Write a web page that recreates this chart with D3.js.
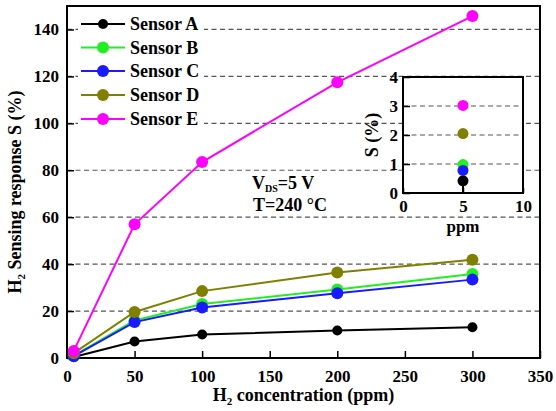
<!DOCTYPE html>
<html>
<head>
<meta charset="utf-8">
<script src="https://cdn.jsdelivr.net/npm/d3@7"></script>
<style>
  body { margin: 0; background: #fff; }
</style>
</head>
<body>
<div id="chart"></div>
<script>
// ---------- data ----------
const concentrations = [5, 50, 100, 200, 300];
const seriesNames = ["Sensor A", "Sensor B", "Sensor C", "Sensor D", "Sensor E"];
const seriesColors = ["#000000", "#22ee22", "#1a1aff", "#808000", "#ff00ff"];
const sensorA = [0.42, 7.0, 10.0, 11.7, 13.1];
const sensorB = [0.98, 16.0, 23.0, 29.2, 35.8];
const sensorC = [0.78, 15.3, 21.5, 27.6, 33.4];
const sensorD = [2.05, 19.6, 28.5, 36.4, 41.9];
const sensorE = [3.02, 57.0, 83.5, 117.5, 145.7];
const seriesValues = [sensorA, sensorB, sensorC, sensorD, sensorE];
const xTicks = [0, 50, 100, 150, 200, 250, 300, 350];
const yTicks = [0, 20, 40, 60, 80, 100, 120, 140];
const insetX = 5;
const insetXTicks = [0, 5, 10];
const insetYTicks = [0, 1, 2, 3, 4];

// ---------- layout ----------
const W = 556, H = 411;
const L = 67, R = 540, T = 6, B = 358;
const FONT = '"Liberation Serif", "Times New Roman", serif';
const svg = d3.select("#chart").append("svg").attr("width", W).attr("height", H);

function font(sel, size) {
  return sel.style("font-family", FONT).style("font-weight", "bold").style("font-size", size + "px").attr("fill", "#000");
}

const x = d3.scaleLinear().domain([0, 350]).range([L, R]);
const y = d3.scaleLinear().domain([0, 150]).range([B, T]);

const gridColor = "#555";
const dash = "5,3.5";

// grid
svg.append("g").selectAll("line").data(yTicks.filter(d => d > 0)).join("line")
  .attr("x1", L).attr("x2", R).attr("y1", d => y(d)).attr("y2", d => y(d))
  .attr("stroke", gridColor).attr("stroke-width", 1.2).attr("stroke-dasharray", dash);

function styleAxis(g) {
  g.select(".domain").remove();
  g.selectAll(".tick line").attr("stroke", "#000").attr("stroke-width", 1.5);
  font(g.selectAll(".tick text"), 17);
}

// axes
const xAxis = svg.append("g").attr("transform", `translate(0,${B})`)
  .call(d3.axisBottom(x).tickValues(xTicks).tickFormat(d3.format("d")).tickSize(-7).tickPadding(12));
const yAxis = svg.append("g").attr("transform", `translate(${L},0)`)
  .call(d3.axisLeft(y).tickValues(yTicks).tickFormat(d3.format("d")).tickSize(-7).tickPadding(8));
styleAxis(xAxis); styleAxis(yAxis);

// frame
svg.append("rect").attr("x", L).attr("y", T).attr("width", R - L).attr("height", B - T)
  .attr("fill", "none").attr("stroke", "#000").attr("stroke-width", 2);

// series
const line = d3.line().x((d, i) => x(concentrations[i])).y(d => y(d));
seriesValues.forEach((vals, k) => {
  const g = svg.append("g");
  g.append("path").datum(vals).attr("d", line).attr("fill", "none")
    .attr("stroke", seriesColors[k]).attr("stroke-width", 2);
  g.selectAll("circle").data(vals).join("circle")
    .attr("cx", (d, i) => x(concentrations[i])).attr("cy", d => y(d))
    .attr("r", k === 0 ? 5 : 6).attr("fill", seriesColors[k]);
});

// legend
const lg = svg.append("g");
lg.append("rect").attr("x", 78).attr("y", 11).attr("width", 126).attr("height", 118).attr("fill", "#fff");
const legY = [24, 47.5, 71, 95, 119];
seriesNames.forEach((n, k) => {
  lg.append("line").attr("x1", 81).attr("x2", 125).attr("y1", legY[k]).attr("y2", legY[k])
    .attr("stroke", seriesColors[k]).attr("stroke-width", 2);
  lg.append("circle").attr("cx", 103).attr("cy", legY[k]).attr("r", k === 0 ? 5 : 6).attr("fill", seriesColors[k]);
  font(lg.append("text").attr("x", 130).attr("y", legY[k]).attr("dy", "0.35em"), 18).text(n);
});

// annotation
const ann = svg.append("g");
const t1 = font(ann.append("text").attr("x", 252).attr("y", 189), 18);
t1.append("tspan").text("V");
t1.append("tspan").style("font-size", "10px").attr("dy", 3).text("DS");
t1.append("tspan").attr("dy", -3).text("=5 V");
font(ann.append("text").attr("x", 253).attr("y", 211), 18).text("T=240 °C");

// axis titles
const xt = font(svg.append("text").attr("x", (L + R) / 2).attr("y", 401).attr("text-anchor", "middle"), 18);
xt.append("tspan").text("H");
xt.append("tspan").style("font-size", "11px").attr("dy", 4).text("2");
xt.append("tspan").attr("dy", -4).text(" concentration (ppm)");

const yt = font(svg.append("text").attr("transform", `translate(21,${(T + B) / 2 + 10}) rotate(-90)`)
  .attr("text-anchor", "middle"), 18);
yt.append("tspan").text("H");
yt.append("tspan").style("font-size", "11px").attr("dy", 4).text("2");
yt.append("tspan").attr("dy", -4).text(" Sensing response S (%)");

// ---------- inset ----------
const iL = 403, iR = 523, iT = 77, iB = 193;
const ix = d3.scaleLinear().domain([0, 10]).range([iL, iR]);
const iy = d3.scaleLinear().domain([0, 4]).range([iB, iT]);
const inset = svg.append("g");
inset.append("rect").attr("x", iL).attr("y", iT).attr("width", iR - iL).attr("height", iB - iT).attr("fill", "#fff");
inset.append("g").selectAll("line").data(insetYTicks.filter(d => d > 0 && d < 4)).join("line")
  .attr("x1", iL).attr("x2", iR).attr("y1", d => iy(d)).attr("y2", d => iy(d))
  .attr("stroke", gridColor).attr("stroke-width", 1.2).attr("stroke-dasharray", dash);
const ixAxis = inset.append("g").attr("transform", `translate(0,${iB})`)
  .call(d3.axisBottom(ix).tickValues(insetXTicks).tickFormat(d3.format("d")).tickSize(-5).tickPadding(7));
const iyAxis = inset.append("g").attr("transform", `translate(${iL},0)`)
  .call(d3.axisLeft(iy).tickValues(insetYTicks).tickFormat(d3.format("d")).tickSize(-7).tickPadding(5));
styleAxis(ixAxis); styleAxis(iyAxis);
inset.append("rect").attr("x", iL).attr("y", iT).attr("width", iR - iL).attr("height", iB - iT)
  .attr("fill", "none").attr("stroke", "#000").attr("stroke-width", 2);
// stem under sensor A point
inset.append("line").attr("x1", ix(insetX)).attr("x2", ix(insetX)).attr("y1", iy(sensorA[0])).attr("y2", iy(0))
  .attr("stroke", "#000").attr("stroke-width", 2);
seriesValues.forEach((vals, k) => {
  inset.append("circle").attr("cx", ix(insetX)).attr("cy", iy(vals[0])).attr("r", 5.5).attr("fill", seriesColors[k]);
});
font(inset.append("text").attr("x", (iL + iR) / 2).attr("y", 232).attr("text-anchor", "middle"), 17).text("ppm");
font(inset.append("text").attr("transform", `translate(378,${(iT + iB) / 2}) rotate(-90)`)
  .attr("text-anchor", "middle"), 18).text("S (%)");
</script>
</body>
</html>
